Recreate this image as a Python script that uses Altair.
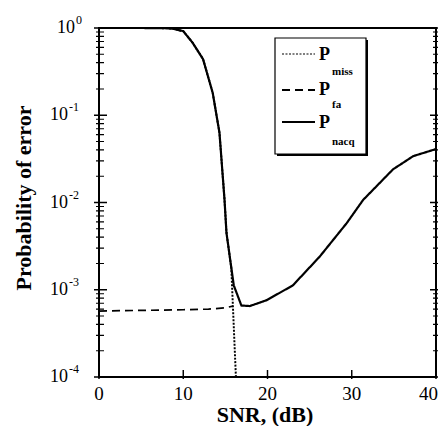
import altair as alt
import pandas as pd

# ---- data ----
snr_nacq = [0, 5, 8, 8.8, 10, 11.1, 12.35, 13.5, 14.3, 14.9, 15.13, 15.7, 16.0,
            16.9, 17.9, 19.9, 23.0, 26.2, 29.4, 31.35, 34.9, 37.3, 40]
p_nacq = [1.0, 1.0, 0.995, 0.98, 0.92, 0.68, 0.44, 0.18, 0.063, 0.0107, 0.0045,
          0.0018, 0.00112, 0.00066, 0.00065, 0.00076, 0.00112, 0.0024, 0.0058,
          0.0107, 0.024, 0.034, 0.041]
snr_miss = [0, 5, 8, 8.8, 10, 11.1, 12.35, 13.5, 14.3, 14.9, 15.13, 15.7, 16.25]
p_miss = [1.0, 1.0, 0.995, 0.98, 0.92, 0.68, 0.44, 0.18, 0.063, 0.0107, 0.0045,
          0.0018, 0.0001]
snr_fa = [0, 5, 10, 13, 15, 15.9]
p_fa = [0.00057, 0.00058, 0.00059, 0.0006, 0.00062, 0.00065]

x_ticks = [0, 10, 20, 30, 40]
x_tick_labels = ["0", "10", "20", "30", "40"]
y_major = [1e-4, 1e-3, 1e-2, 1e-1, 1.0]
y_neg_vals = [1e-1, 1e-2, 1e-3, 1e-4]
y_neg_exps = ["-1", "-2", "-3", "-4"]
y_minor = [m * 10.0 ** e for e in range(-4, 0) for m in range(2, 10)]

legend_main = ["P", "P", "P"]
legend_subs = ["miss", "fa", "nacq"]

W, H = 337, 349
FONT = "Liberation Serif"
XMIN, XMAX = 0, 40
YDEC = 4  # decades shown

xs = alt.Scale(domain=[XMIN, XMAX], nice=False, zero=False)
ys = alt.Scale(type="log", domain=[1e-4, 1], nice=False)


def X(f):
    return alt.X(f, type="quantitative", scale=xs, axis=None)


def Y(f):
    return alt.Y(f, type="quantitative", scale=ys, axis=None)


rows = []
for sx, sy, name, kind in [(snr_miss, p_miss, "miss", "dot"), (snr_fa, p_fa, "fa", "dash"),
                           (snr_nacq, p_nacq, "nacq", "solid")]:
    for a, b in zip(sx, sy):
        rows.append({"x": a, "y": b, "g": name, "k": kind})

# ---- axis tick segments (pixel lengths converted through the scales' units) ----
PX = (XMAX - XMIN) / W          # x units per pixel
PY = YDEC / H                   # decades per pixel


def ytick_rows(vals, a, b, base, gid, kind):
    out = []
    for i, v in enumerate(vals):
        out.append({"x": base + a * PX, "y": v, "g": f"{gid}{i}", "k": kind})
        out.append({"x": base + b * PX, "y": v, "g": f"{gid}{i}", "k": kind})
    return out


rows += ytick_rows(y_major, -5, 8, XMIN, "L", "major") + ytick_rows(y_major, -6, 7, XMAX, "R", "major")
rows += ytick_rows(y_minor, -3, 5, XMIN, "l", "minor") + ytick_rows(y_minor, -3, 4, XMAX, "r", "minor")
for i, t in enumerate(x_ticks):
    rows.append({"x": t, "y": 1e-4 * 10 ** (7 * PY), "g": f"B{i}", "k": "major"})
    rows.append({"x": t + 1e-6, "y": 1e-4 * 10 ** (-2 * PY), "g": f"B{i}", "k": "major"})

kinds = ["solid", "dot", "dash", "major", "minor"]
lines = alt.Chart(pd.DataFrame(rows)).mark_line(color="black").encode(
    x=X("x"), y=Y("y"), detail="g:N",
    strokeDash=alt.StrokeDash("k:N", scale=alt.Scale(domain=kinds, range=[[1, 0], [2, 1.5], [8, 5], [1, 0], [1, 0]]), legend=None),
    strokeWidth=alt.StrokeWidth("k:O", scale=alt.Scale(domain=kinds, range=[2.2, 1.2, 2, 2, 1.4]), legend=None),
)

dxt = pd.DataFrame({"v": x_ticks, "t": x_tick_labels})
d0 = pd.DataFrame({"v": [1.0], "e": ["0"]})
dneg = pd.DataFrame({"v": y_neg_vals, "e": y_neg_exps})
labels = [
    alt.Chart(d0).mark_text(font=FONT, fontSize=18, align="right", dy=5, baseline="alphabetic").encode(y=Y("v"), x=alt.value(-24), text=alt.value("10")),
    alt.Chart(d0).mark_text(font=FONT, fontSize=12, align="left", dy=-4, baseline="alphabetic").encode(y=Y("v"), x=alt.value(-23), text="e:N"),
    alt.Chart(dneg).mark_text(font=FONT, fontSize=18, align="right", dy=5, baseline="alphabetic").encode(y=Y("v"), x=alt.value(-31), text=alt.value("10")),
    alt.Chart(dneg).mark_text(font=FONT, fontSize=12, align="left", dy=-4, baseline="alphabetic").encode(y=Y("v"), x=alt.value(-30), text="e:N"),
    alt.Chart(dxt[dxt.v < 40]).mark_text(font=FONT, fontSize=19, align="center", baseline="alphabetic").encode(x=X("v"), y=alt.value(H + 23), text="t:N"),
    alt.Chart(dxt[dxt.v == 40]).mark_text(font=FONT, fontSize=19, align="right", baseline="alphabetic").encode(x=alt.value(W + 2), y=alt.value(H + 23), text="t:N"),
]

one = pd.DataFrame({"a": [0]})
titles = [
    alt.Chart(one).mark_text(font=FONT, fontSize=22, fontWeight="bold", align="center", baseline="alphabetic").encode(
        x=alt.value(166), y=alt.value(H + 45), text=alt.value("SNR, (dB)")),
    alt.Chart(one).mark_text(font=FONT, fontSize=22, fontWeight="bold", align="center", baseline="middle", angle=270).encode(
        x=alt.value(-75), y=alt.value(170), text=alt.value("Probability of error")),
]

# legend box
leg = [
    alt.Chart(one).mark_rect(color="black").encode(x=alt.value(178), x2=alt.value(269), y=alt.value(12), y2=alt.value(128)),
    alt.Chart(one).mark_rect(fill="white", stroke="black", strokeWidth=1.2).encode(x=alt.value(176), x2=alt.value(267), y=alt.value(10), y2=alt.value(126)),
]
row_line_y = [26, 62, 94]
row_p_y = [32, 67, 100]
row_sub_y = [47, 80, 117]
styles = [dict(strokeWidth=1.2, strokeDash=[2, 1.5]), dict(strokeWidth=2, strokeDash=[8, 5]), dict(strokeWidth=2.2)]
for i in range(3):
    leg.append(alt.Chart(one).mark_rule(color="black", **styles[i]).encode(
        x=alt.value(183), x2=alt.value(216), y=alt.value(row_line_y[i])))
    leg.append(alt.Chart(one).mark_text(font=FONT, fontSize=18, fontWeight="bold", align="left", baseline="alphabetic").encode(
        x=alt.value(220), y=alt.value(row_p_y[i]), text=alt.value(legend_main[i])))
    leg.append(alt.Chart(one).mark_text(font=FONT, fontSize=11, fontWeight="bold", align="left", baseline="alphabetic").encode(
        x=alt.value(233), y=alt.value(row_sub_y[i]), text=alt.value(legend_subs[i])))

chart = alt.layer(lines, *labels, *titles, *leg).properties(
    width=W, height=H,
    padding={"left": 91, "top": 20, "right": 2, "bottom": 49},
    autosize=alt.AutoSizeParams(type="none"),
).configure_view(stroke="black", strokeWidth=2)

chart.save("out.html", embed_options={"renderer": "svg", "actions": False})
